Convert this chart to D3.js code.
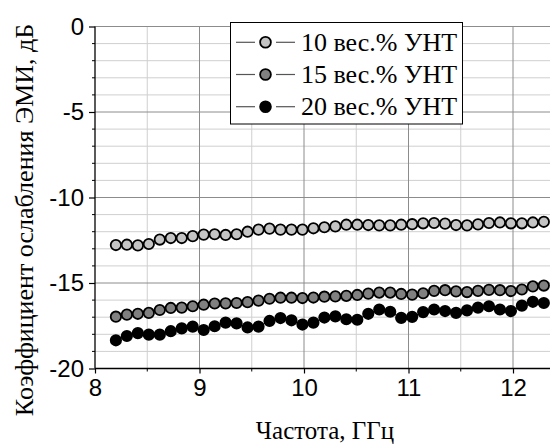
<!DOCTYPE html>
<html><head><meta charset="utf-8">
<script src="https://cdn.jsdelivr.net/npm/d3@7"></script>
<style>body{margin:0;background:#fff}svg{display:block}
.sans{font-family:'Liberation Sans',Arial,sans-serif}
.serif{font-family:'Liberation Serif','Times New Roman',serif}
</style>
</head><body>
<svg id="c" width="550" height="445"></svg>
<script>
const freq = [8.2,8.305,8.41,8.515,8.62,8.725,8.83,8.935,9.04,9.145,9.25,9.355,9.46,9.565,9.67,9.775,9.88,9.985,10.09,10.195,10.3,10.405,10.51,10.615,10.72,10.825,10.93,11.035,11.14,11.245,11.35,11.455,11.56,11.665,11.77,11.875,11.98,12.085,12.19,12.295];
const s10 = [-12.78,-12.76,-12.80,-12.72,-12.46,-12.37,-12.37,-12.26,-12.17,-12.15,-12.19,-12.15,-12.00,-11.88,-11.82,-11.88,-11.88,-11.88,-11.80,-11.74,-11.69,-11.59,-11.59,-11.61,-11.63,-11.63,-11.59,-11.56,-11.51,-11.49,-11.53,-11.61,-11.63,-11.57,-11.49,-11.46,-11.51,-11.51,-11.46,-11.42];
const s15 = [-16.97,-16.85,-16.80,-16.75,-16.58,-16.46,-16.44,-16.36,-16.27,-16.20,-16.19,-16.17,-16.12,-16.03,-15.92,-15.86,-15.86,-15.88,-15.85,-15.80,-15.78,-15.75,-15.70,-15.62,-15.56,-15.56,-15.64,-15.68,-15.60,-15.46,-15.42,-15.49,-15.53,-15.46,-15.40,-15.42,-15.47,-15.38,-15.20,-15.15];
const s20 = [-18.35,-18.10,-17.93,-18.02,-18.02,-17.82,-17.65,-17.55,-17.75,-17.53,-17.32,-17.36,-17.60,-17.55,-17.22,-17.05,-17.18,-17.43,-17.32,-17.02,-16.95,-17.12,-17.15,-16.80,-16.55,-16.68,-17.04,-16.98,-16.70,-16.55,-16.64,-16.75,-16.60,-16.44,-16.36,-16.55,-16.64,-16.32,-16.10,-16.17];
const seriesNames = ["10 вес.% УНТ","15 вес.% УНТ","20 вес.% УНТ"];
const seriesFill = ["#c4c4c4","#808080","#000000"];
const xTicks = [8,9,10,11,12];
const yTicks = [0,-5,-10,-15,-20];
const xTitle = "Частота, ГГц";
const yTitle = "Коэффициент ослабления ЭМИ, дБ";

const svg = d3.select("#c");
const L = 95, R = 550, T = 26.5, B = 368.5;
const x = d3.scaleLinear().domain([8, 8 + (R - L) / 104.5]).range([L, R]);
const y = d3.scaleLinear().domain([-20, 0]).range([B, T]);

// grid
const g = svg.append("g");
const xMinor = d3.range(8, 12.4, 0.5);
const yMinor = d3.range(-19, 0.5, 1);
g.selectAll(".gx").data(xMinor.filter(v => v % 1 !== 0)).join("line")
  .attr("x1", d => x(d)).attr("x2", d => x(d)).attr("y1", T).attr("y2", B)
  .attr("stroke", "#cfcfcf").attr("stroke-width", 1);
g.selectAll(".gy").data(yMinor.filter(v => v % 5 !== 0)).join("line")
  .attr("x1", L).attr("x2", R).attr("y1", d => y(d)).attr("y2", d => y(d))
  .attr("stroke", "#cfcfcf").attr("stroke-width", 1);
g.selectAll(".gX").data(xTicks.filter(v => v > 8)).join("line")
  .attr("x1", d => x(d)).attr("x2", d => x(d)).attr("y1", T).attr("y2", B)
  .attr("stroke", "#8c8c8c").attr("stroke-width", 1);
g.selectAll(".gY").data(yTicks.filter(v => v > -20)).join("line")
  .attr("x1", L).attr("x2", R).attr("y1", d => y(d)).attr("y2", d => y(d))
  .attr("stroke", "#8c8c8c").attr("stroke-width", 1);

// series
const all = [s10, s15, s20];
const line = d3.line().x((d, i) => x(freq[i])).y(d => y(d));
all.forEach((s, k) => {
  svg.append("path").attr("d", line(s)).attr("fill", "none").attr("stroke", "#000").attr("stroke-width", 1);
});
all.forEach((s, k) => {
  svg.append("g").selectAll("circle").data(s).join("circle")
    .attr("cx", (d, i) => x(freq[i])).attr("cy", d => y(d)).attr("r", 5.2)
    .attr("fill", seriesFill[k]).attr("stroke", "#000").attr("stroke-width", 1.8);
});

// axes
const fmt = d => String(d);
const xa = svg.append("g").attr("transform", `translate(0,${B})`);
xa.call(d3.axisBottom(x).tickValues(xTicks).tickFormat(fmt).tickSize(5).tickPadding(5));
xa.append("g").selectAll("line").data(xMinor.filter(v => v % 1 !== 0)).join("line")
  .attr("x1", d => x(d)).attr("x2", d => x(d)).attr("y1", 0).attr("y2", 3).attr("stroke", "#000");
const ya = svg.append("g").attr("transform", `translate(${L},0)`);
ya.call(d3.axisLeft(y).tickValues(yTicks).tickFormat(fmt).tickSize(6).tickPadding(5));
ya.append("g").selectAll("line").data(yMinor.filter(v => v % 5 !== 0)).join("line")
  .attr("y1", d => y(d)).attr("y2", d => y(d)).attr("x1", 0).attr("x2", -3).attr("stroke", "#000");
[xa, ya].forEach(a => {
  a.attr("font-family", null).attr("font-size", null);
  a.select(".domain").attr("stroke", "#000").attr("stroke-width", 1.3);
  a.selectAll(".tick line").attr("stroke", "#000").attr("stroke-width", 1.2);
  a.selectAll(".tick text").attr("class", "sans").style("font-size", "24px").attr("fill", "#000");
});
xa.select(".domain").attr("d", `M${L},0H${R}`);
ya.select(".domain").attr("d", `M0,${T}V${B}`);

// titles
svg.append("text").attr("class", "serif").attr("x", 325).attr("y", 439).attr("text-anchor", "middle")
  .style("font-size", "25px").text(xTitle);
svg.append("text").attr("class", "serif").attr("transform", "translate(33,220) rotate(-90)").attr("text-anchor", "middle")
  .style("font-size", "26px").text(yTitle);

// legend
const lg = svg.append("g");
lg.append("rect").attr("x", 230.5).attr("y", 22.5).attr("width", 232).attr("height", 101.5)
  .attr("fill", "#fff").attr("stroke", "#000").attr("stroke-width", 1);
seriesNames.forEach((n, k) => {
  const yy = 42.3 + k * 32.2;
  lg.append("line").attr("x1", 236).attr("x2", 255).attr("y1", yy).attr("y2", yy).attr("stroke", "#555").attr("stroke-width", 1.2);
  lg.append("line").attr("x1", 276).attr("x2", 295).attr("y1", yy).attr("y2", yy).attr("stroke", "#555").attr("stroke-width", 1.2);
  lg.append("circle").attr("cx", 265.5).attr("cy", yy).attr("r", 5.4).attr("fill", seriesFill[k]).attr("stroke", "#000").attr("stroke-width", 1.8);
  lg.append("text").attr("class", "serif").attr("x", 301).attr("y", yy + 8.5)
    .style("font-size", "26px").text(n);
});
</script>
</body></html>
